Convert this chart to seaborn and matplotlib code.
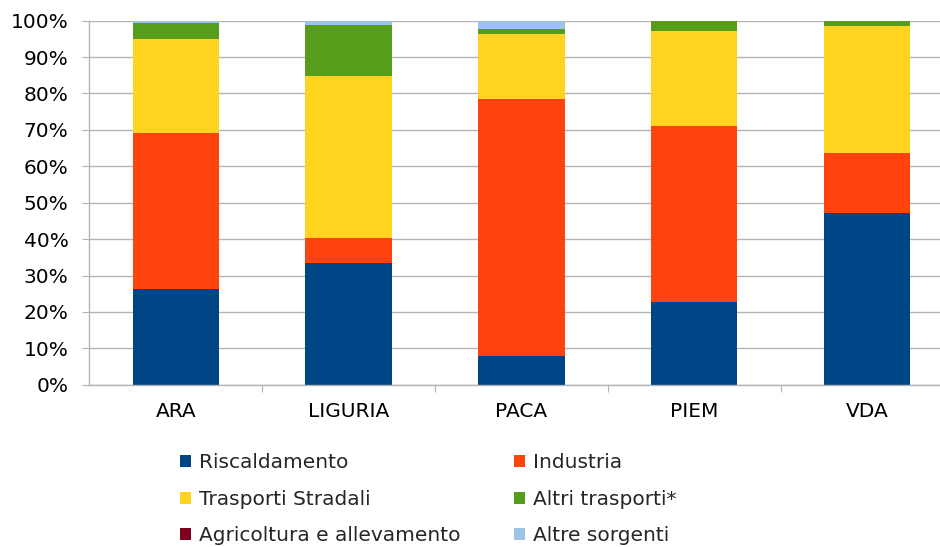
import matplotlib
matplotlib.use("Agg")
import matplotlib.pyplot as plt
from matplotlib.patches import Patch
from matplotlib.ticker import FixedLocator, PercentFormatter
import numpy as np
import pandas as pd
import seaborn as sns

# Regions and emission-source shares (percent of total)
regions = ["ARA", "LIGURIA", "PACA", "PIEM", "VDA"]
sources = ["Riscaldamento", "Industria", "Trasporti Stradali",
           "Altri trasporti*", "Agricoltura e allevamento", "Altre sorgenti"]
riscaldamento = [26.4, 33.4, 8.0, 22.8, 47.3]
industria = [42.8, 6.9, 70.6, 48.4, 16.3]
trasporti_stradali = [25.8, 44.4, 17.8, 26.0, 35.0]
altri_trasporti = [4.4, 14.2, 1.3, 2.8, 1.4]
agricoltura = [0.0, 0.0, 0.0, 0.0, 0.0]
altre_sorgenti = [0.6, 1.1, 2.3, 0.0, 0.0]
colors = ["#004586", "#ff420e", "#ffd320", "#579d1c", "#7e0021", "#9dc3e6"]
y_ticks = list(range(0, 101, 10))

series = [riscaldamento, industria, trasporti_stradali,
          altri_trasporti, agricoltura, altre_sorgenti]
df = pd.DataFrame(dict(zip(sources, series)), index=regions)
cum = df.cumsum(axis=1)

sns.set_theme(style="white")
plt.rcParams["font.family"] = ["DejaVu Sans"]
FS = 14.5

fig = plt.figure(figsize=(9.4, 5.47), dpi=100)
ax = fig.add_axes([89.3 / 940, (547 - 384.7) / 547, 864.0 / 940, 364.0 / 547])

# Stacked bars: draw cumulative totals from the top segment down
for src, col in zip(reversed(sources), reversed(colors)):
    sns.barplot(x=regions, y=cum[src].values, color=col, width=0.5,
                saturation=1, edgecolor="none", linewidth=0, ax=ax, zorder=2)

ax.set_ylim(0, 100)
ax.set_xlim(-0.5, len(regions) - 0.5)
ax.yaxis.set_major_locator(FixedLocator(y_ticks))
ax.yaxis.set_major_formatter(PercentFormatter(decimals=0))
ax.grid(axis="y", color="#b3b3b3", linewidth=1, zorder=0)
ax.set_axisbelow(True)

for side in ["top", "right"]:
    ax.spines[side].set_visible(False)
for side in ["left", "bottom"]:
    ax.spines[side].set_color("#b3b3b3")
    ax.spines[side].set_linewidth(1)

ax.tick_params(axis="y", which="major", left=True, length=5, width=0.8,
               color="#b3b3b3", pad=10, labelsize=FS, labelcolor="black")
ax.tick_params(axis="x", which="major", bottom=False, length=0, pad=12.5,
               labelsize=FS, labelcolor="black")
ax.xaxis.set_minor_locator(FixedLocator(np.arange(0.5, len(regions) - 0.5, 1)))
ax.tick_params(axis="x", which="minor", bottom=True, length=5, width=0.8,
               color="#b3b3b3", direction="out")
ax.set_xlabel("")
ax.set_ylabel("")

# Legend laid out row by row in two columns
handles = [Patch(facecolor=c, edgecolor="none") for c in colors]
order = [0, 2, 4, 1, 3, 5]
fig.legend([handles[i] for i in order], [sources[i] for i in order],
           ncol=2, frameon=False, loc="upper left",
           bbox_to_anchor=(180.0 / 940, 1 - 453.0 / 547),
           borderaxespad=0, borderpad=0, fontsize=FS,
           handlelength=0.55, handleheight=0.55, handletextpad=0.4,
           columnspacing=2.65, labelspacing=0.88)

fig.savefig("out.png", dpi=100)
